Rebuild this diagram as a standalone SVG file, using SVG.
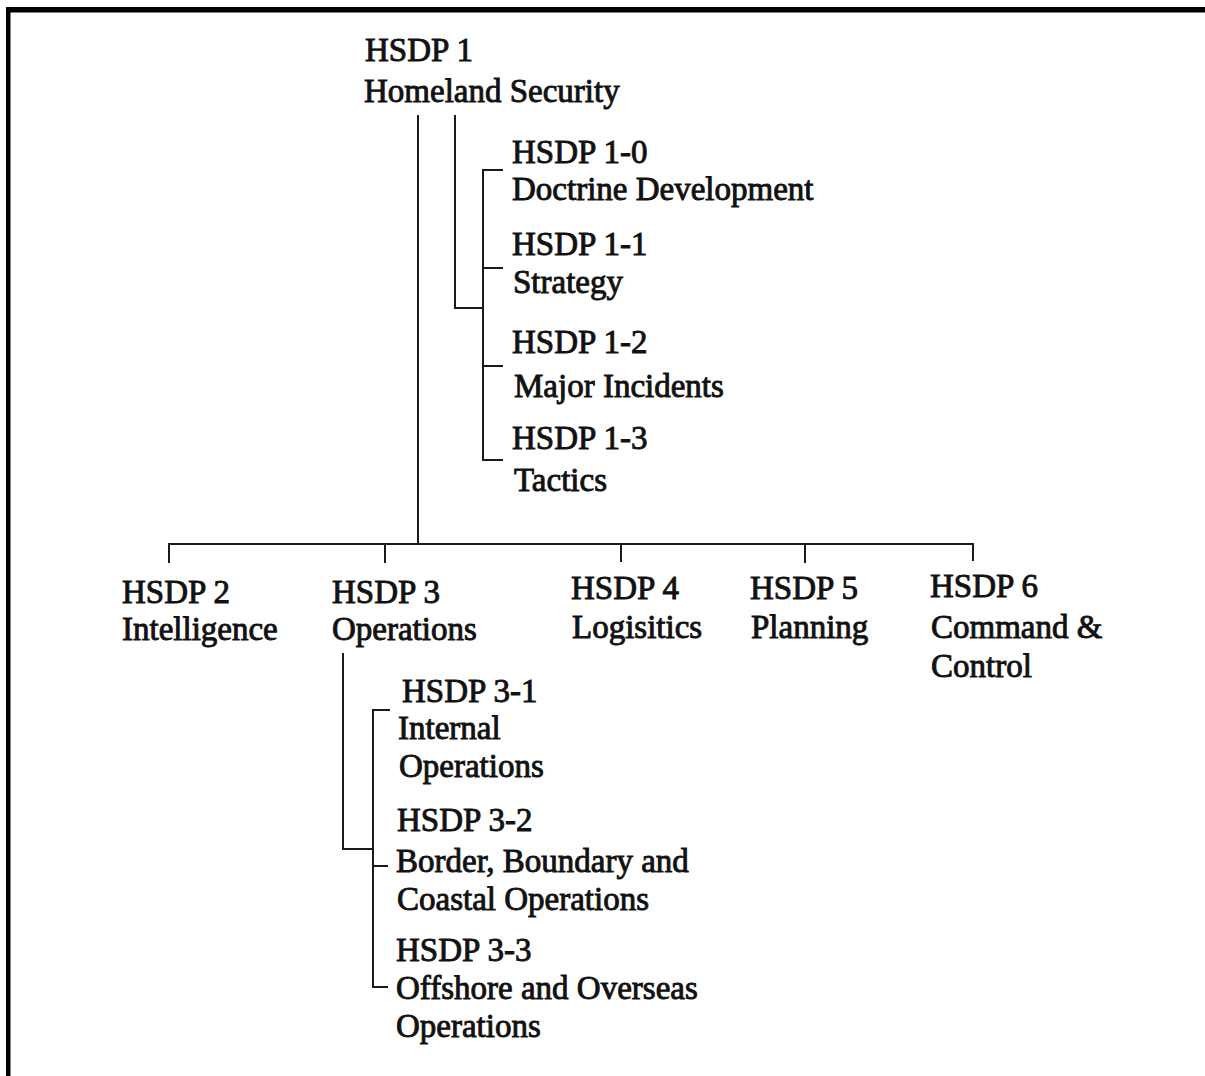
<svg xmlns="http://www.w3.org/2000/svg" width="1205" height="1076" viewBox="0 0 1205 1076">
<style>
text{font-family:"Liberation Serif","Times New Roman",serif;font-size:33px;fill:#111;stroke:#111;stroke-width:0.9}
.c{fill:none;stroke:#1a1a1a;stroke-width:2}
</style>
<rect x="0" y="0" width="1205" height="1076" fill="#fff"/>
<g id="frame">
<rect x="6" y="7" width="1199" height="5.5" fill="#000"/>
<rect x="6" y="7" width="4.5" height="1069" fill="#000"/>
</g>
<g id="connectors">
<path class="c" d="M418 115V544"/>
<path class="c" d="M169 563V544H973V561"/>
<path class="c" d="M385 544V563M621 544V562M805 544V563"/>
<path class="c" d="M455 115V308H483"/>
<path class="c" d="M503 170H483V460H503M483 268H503M483 366H503"/>
<path class="c" d="M343 653V849H373"/>
<path class="c" d="M390 710H373V987H388M373 866H388"/>
</g>
<g id="hsdp1"><text x="365" y="61">HSDP 1</text><text x="364" y="102">Homeland Security</text></g>
<g id="hsdp1-0"><text x="512" y="163">HSDP 1-0</text><text x="512" y="200">Doctrine Development</text></g>
<g id="hsdp1-1"><text x="512" y="255">HSDP 1-1</text><text x="513" y="293">Strategy</text></g>
<g id="hsdp1-2"><text x="512" y="353">HSDP 1-2</text><text x="514" y="397">Major Incidents</text></g>
<g id="hsdp1-3"><text x="512" y="449">HSDP 1-3</text><text x="514" y="491">Tactics</text></g>
<g id="hsdp2"><text x="122" y="603">HSDP 2</text><text x="122" y="640">Intelligence</text></g>
<g id="hsdp3"><text x="332" y="603">HSDP 3</text><text x="332" y="640">Operations</text></g>
<g id="hsdp4"><text x="571" y="599">HSDP 4</text><text x="572" y="638">Logisitics</text></g>
<g id="hsdp5"><text x="750" y="599">HSDP 5</text><text x="751" y="638">Planning</text></g>
<g id="hsdp6"><text x="930" y="597">HSDP 6</text><text x="931" y="638">Command &amp;</text><text x="931" y="677">Control</text></g>
<g id="hsdp3-1"><text x="402" y="702">HSDP 3-1</text><text x="398" y="739">Internal</text><text x="399" y="777">Operations</text></g>
<g id="hsdp3-2"><text x="397" y="831">HSDP 3-2</text><text x="396" y="872">Border, Boundary and</text><text x="397" y="910">Coastal Operations</text></g>
<g id="hsdp3-3"><text x="396" y="961">HSDP 3-3</text><text x="396" y="999">Offshore and Overseas</text><text x="396" y="1037">Operations</text></g>
</svg>
